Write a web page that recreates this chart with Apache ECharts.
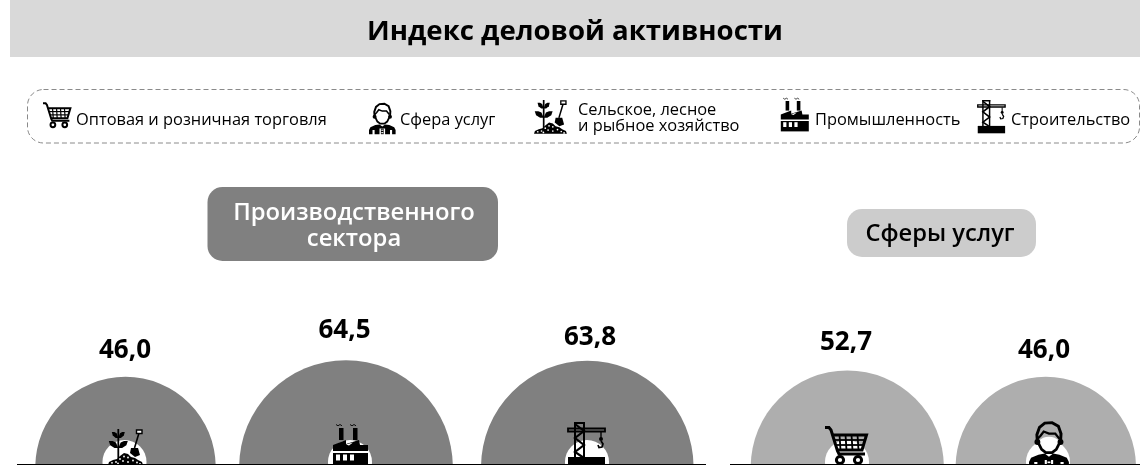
<!DOCTYPE html>
<html><head><meta charset="utf-8">
<style>html,body{margin:0;padding:0;background:#fff}#c{width:1140px;height:465px}</style>
<script src="https://cdn.jsdelivr.net/npm/echarts@6/dist/echarts.min.js"></script>
</head><body><div id="c"></div>
<script>
const title = 'Индекс деловой активности';
const categories = ['Сельское, лесное и рыбное хозяйство','Промышленность','Строительство','Оптовая и розничная торговля','Сфера услуг'];
const values = [46.0, 64.5, 63.8, 52.7, 46.0];
const groups = ['Производственного\nсектора','Сферы услуг'];
const FONT = '"Open Sans", "Noto Sans", sans-serif';
const K = 13.3, CY = 467, Z = 10;
const centers = [125.5, 346, 587.3, 847.3, 1045.8];
const holes = [124.5, 350, 587, 847, 1048];
const colors = ['#808080','#808080','#808080','#aeaeae','#aeaeae'];
const labelY = [351, 331, 338, 343, 351];
const labelX = [125, 344.5, 590, 846, 1044];
const iconKeys = ['plant','factory','crane','cart','person'];
const iconBig = [[108,429,1],[332,423,1],[567,422,1],[825,427,1],[1029,420,1.05]];

const K_ = '#000';
function st(o){return Object.assign({z:Z},o);}
const line=(pts,w,c)=>st({type:'polyline',shape:{points:pts},style:{stroke:c||K_,lineWidth:w,fill:null}});
const poly=(pts,c)=>st({type:'polygon',shape:{points:pts},style:{fill:c||K_}});
const rect=(x,y,w,h,c)=>st({type:'rect',shape:{x,y,width:w,height:h},style:{fill:c||K_}});
const circ=(cx,cy,r,fill,stroke,lw)=>st({type:'circle',shape:{cx,cy,r},style:{fill:fill||K_,stroke:stroke||null,lineWidth:lw||0}});
const leaf=(x,y,dir,w,h)=>poly([[x,y+h],[x+dir*w*0.25,y+h*0.2],[x+dir*w*0.6,y],[x+dir*w,y],[x+dir*w*0.85,y+h*0.6],[x+dir*w*0.4,y+h]]);

const ICONS = {
  cart(){const c=[
      line([[0,0.5],[4,0.5],[6,3],[12.5,24],[14,27],[40,27]],3),
      line([[8,8],[41.5,8],[37,23],[12.5,23]],3)];
    [14,20,26,32].forEach((x)=>c.push(line([[x+0.5,8],[x+1.5,23]],1.8)));
    c.push(line([[9.5,13],[40,13]],1.8),line([[11,18],[38.5,18]],1.8));
    c.push(circ(15,33,3.6,'#fff','#000',3),circ(33,33,3.6,'#fff','#000',3));
    return c;},
  person(){return [
      circ(19,30,14,'#fff'),
      line([[8,21],[7.5,14],[10,7],[15,3],[22,2.5],[28,6],[30.5,13],[30,21]],2.8),
      line([[8,18],[11,15],[14,11],[19,13],[25,13],[29,18]],2.2),
      circ(8,21,2.8,'#000'),circ(30,21,2.8,'#000'),
      line([[9,22],[12,28],[16,31],[22,31],[26,28],[29,22]],2.6),
      poly([[0,46],[0,40],[2,36],[9,33],[15,32],[19,35],[23,32],[29,33],[36,36],[38,40],[38,46],[33,46],[33,40],[30,40],[30,46],[23,46],[23,38],[15,38],[15,46],[8,46],[8,40],[5,40],[5,46]]),
      rect(17,38,4,8),
      rect(17.6,39.5,2.8,1.6,'#fff'),rect(17.6,43,2.8,1.6,'#fff')];},
  plant(){return [
      line([[10.3,0],[10.3,34]],1.8),
      leaf(10.3,3,-1,6.5,6),leaf(10.3,3,1,6.5,6),leaf(10.3,12,-1,9.5,7),leaf(10.3,12,1,9.5,7),
      line([[31,4],[26.5,19]],1.6),
      st({type:'rect',shape:{x:28.5,y:1,width:5.5,height:3.5},style:{fill:'#fff',stroke:'#000',lineWidth:1.4}}),
      poly([[23,19],[30,19],[32,26],[27,28],[22,24]]),
      poly([[0,36],[1,33],[5,31],[9,30],[12,27],[16,24],[20,25],[23,28],[27,29],[30,31],[34,33],[35,36]]),
      ...[[4,33.8],[8,33],[12,30],[16,27.5],[20,28.5],[15,32],[20,33],[25,31.5],[29,33.5],[10,34.5],[32,35]].map(p=>circ(p[0],p[1],0.9,'#fff'))];},
  factory(){return [
      rect(7,5,4.5,12),rect(21,5,4.5,12),
      line([[4,1.5],[6,2.8],[8,1.5],[10,2.8]],0.9),line([[18,1.5],[20,2.8],[22,1.5],[24,2.8]],0.9),
      poly([[1,28],[1,22],[14,17],[14,21],[27,17],[28,22],[36,22],[36,28]]),
      poly([[14,21.5],[21,19.5],[17,22.5]],'#fff'),
      rect(1,30,35,13),
      rect(4,31.5,4,6,'#fff'),rect(11,31.5,4,6,'#fff'),rect(18,31.5,4,6,'#fff')];},
  crane(){return [
      rect(7,0,11,2,K_),rect(7,0,2,36),rect(16,0,2,36),
      line([[8,2],[17,9],[8,16],[17,23],[8,30],[17,36]],2.2),
      st({type:'rect',shape:{x:1,y:6.5,width:37,height:3},style:{fill:null,stroke:'#000',lineWidth:1.8}}),
      line([[34,10],[34,16]],1.4),
      circ(34,17,2,'#000'),
      line([[34,19],[36,22],[35,25],[32,25.5],[31,23]],1.7),
      rect(1,35,37,10)];}
};
function icon(key,x,y,s){return {type:'group',x,y,scaleX:s,scaleY:s,children:ICONS[key]()};}

const txt=(t,x,y,size,weight,fill,align,lh)=>({type:'text',x,y,z:Z,
  style:{text:t,fontFamily:FONT,fontSize:size,fontWeight:weight,fill:fill||'#000',align:align||'left',verticalAlign:'middle',lineHeight:lh||Math.round(size*1.27)}});

const elements=[
  rect(10,0,1130,57,'#d9d9d9'),
  txt(title,575,32,27.6,700,'#000','center'),
  st({type:'rect',shape:{x:27.5,y:89.5,width:1112,height:53.5,r:16},style:{fill:null,stroke:'#8a8a8a',lineWidth:1,lineDash:[5,3]}}),
  st({type:'rect',shape:{x:207.5,y:187,width:290.5,height:74,r:15},style:{fill:'#808080'}}),
  txt(groups[0],354,226,23.8,600,'#fff','center',26),
  st({type:'rect',shape:{x:847,y:209,width:189,height:48,r:15},style:{fill:'#cccccc'}}),
  txt(groups[1],940,234,23.7,600,'#000','center'),
  txt(categories[3],76,120,16.4,400),
  txt(categories[4],400,120,16.4,400),
  txt('Сельское, лесное\nи рыбное хозяйство',578,118,16.4,400,'#000','left',16),
  txt(categories[1],815,120,16.4,400),
  txt(categories[2],1011,120,16.4,400),
  icon('cart',43,103,0.66),icon('person',369,102,0.7),icon('plant',534,100,0.94),icon('factory',780,97,0.8),icon('crane',977,100,0.74)
];
values.forEach((v,i)=>{
  elements.push(circ(holes[i],462,22,'#fff'));
  elements.push(txt(v.toFixed(1).replace('.',','),labelX[i],labelY[i],26,700,'#000','center'));
  const b=iconBig[i]; elements.push(icon(iconKeys[i],b[0],b[1],b[2]));
});
elements.push(rect(17,464,689,1.5,'#000'),rect(730,464,410,1.5,'#000'));

const chart=echarts.init(document.getElementById('c'),null,{renderer:'canvas'});
chart.setOption({
  animation:false,
  backgroundColor:'#fff',
  series:values.map((v,i)=>({
    type:'pie',silent:true,center:[centers[i],CY],radius:[0,K*Math.sqrt(v)],
    label:{show:false},labelLine:{show:false},
    data:[{name:categories[i],value:v,itemStyle:{color:colors[i]}}]
  })),
  graphic:{elements}
});
</script></body></html>
